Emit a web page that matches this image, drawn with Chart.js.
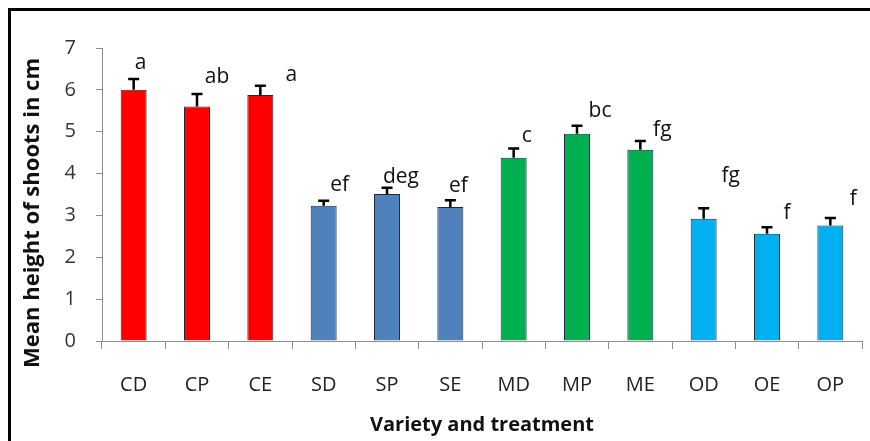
<!DOCTYPE html>
<html>
<head>
<meta charset="utf-8">
<script src="https://cdn.jsdelivr.net/npm/chart.js@4.4.1/dist/chart.umd.min.js"></script>
<style>
  html, body { margin: 0; padding: 0; background: #fff; overflow: hidden; }
  #wrap { position: relative; width: 870px; height: 441px; }
  #frame { position: absolute; left: 8px; top: 8px; width: 900px; height: 500px;
           border-top: 3px solid #000; border-left: 3px solid #000; }
  canvas { position: absolute; left: 0; top: 0; }
</style>
</head>
<body>
<div id="wrap">
  <div id="frame"></div>
  <canvas id="chart" width="870" height="441"></canvas>
</div>
<script>
// Mean shoot height per variety/treatment, with standard error and significance letters
const categories = ['CD', 'CP', 'CE', 'SD', 'SP', 'SE', 'MD', 'MP', 'ME', 'OD', 'OE', 'OP'];
const meanHeight = [6.0, 5.6, 5.88, 3.23, 3.51, 3.2, 4.38, 4.95, 4.57, 2.92, 2.56, 2.76];
const stdError = [0.26, 0.3, 0.22, 0.12, 0.15, 0.16, 0.22, 0.19, 0.21, 0.25, 0.16, 0.18];
const sigLetters = ['a', 'ab', 'a', 'ef', 'deg', 'ef', 'c', 'bc', 'fg', 'fg', 'f', 'f'];
const yTicks = [0, 1, 2, 3, 4, 5, 6, 7];

const barColors = ['#ff0000', '#ff0000', '#ff0000', '#4f81bd', '#4f81bd', '#4f81bd',
                   '#00b050', '#00b050', '#00b050', '#00b0f0', '#00b0f0', '#00b0f0'];

// letter nudges relative to the error-bar top (x right, y up), in px
const letterNudge = [[7, 16], [20, 17], [31, 11], [16, 16], [14, 11], [8, 14],
                     [13, 12], [23, 15], [22, 11], [27, 32], [20, 14], [23, 19]];

const FONT = '"Open Sans", sans-serif';

const errorBarsAndLetters = {
  id: 'errorBarsAndLetters',
  afterDatasetsDraw(chart) {
    const ctx = chart.ctx;
    const meta = chart.getDatasetMeta(0);
    const yScale = chart.scales.y;
    ctx.save();
    meta.data.forEach((bar, i) => {
      const yTop = yScale.getPixelForValue(meanHeight[i] + stdError[i]);
      const yBase = yScale.getPixelForValue(meanHeight[i]);
      ctx.strokeStyle = '#000';
      ctx.lineWidth = 2.5;
      ctx.beginPath();
      ctx.moveTo(bar.x, yBase);
      ctx.lineTo(bar.x, yTop);
      ctx.moveTo(bar.x - 5.5, yTop);
      ctx.lineTo(bar.x + 5.5, yTop);
      ctx.stroke();

      ctx.fillStyle = '#111';
      ctx.font = '21px ' + FONT;
      ctx.textAlign = 'center';
      ctx.textBaseline = 'middle';
      ctx.fillText(sigLetters[i], bar.x + letterNudge[i][0], yTop - letterNudge[i][1]);
    });

    // y axis title, rotated
    ctx.translate(33, 213);
    ctx.rotate(-Math.PI / 2);
    ctx.font = 'bold 22px ' + FONT;
    ctx.fillStyle = '#111';
    ctx.textAlign = 'center';
    ctx.textBaseline = 'middle';
    ctx.fillText('Mean height of shoots in cm', 0, 0);
    ctx.restore();
  }
};

new Chart(document.getElementById('chart'), {
  type: 'bar',
  data: {
    labels: categories,
    datasets: [{
      data: meanHeight,
      backgroundColor: barColors,
      borderColor: '#1a2a3a',
      borderWidth: 1,
      barPercentage: 0.82,
      categoryPercentage: 0.5
    }]
  },
  options: {
    responsive: false,
    animation: false,
    layout: { padding: { left: 0, right: 8, top: 48, bottom: 0 } },
    plugins: {
      legend: { display: false },
      tooltip: { enabled: false }
    },
    scales: {
      x: {
        afterFit: (scale) => { scale.height = 100; },
        border: { color: '#8c8c8c', width: 1 },
        grid: { drawOnChartArea: false, tickLength: 8, color: '#8c8c8c', offset: true },
        ticks: { color: '#222', font: { size: 20, family: FONT }, padding: 24 },
        title: {
          display: true,
          text: 'Variety and treatment',
          color: '#111',
          font: { size: 20, weight: 'bold', family: FONT },
          padding: { top: 4, bottom: 4 }
        }
      },
      y: {
        min: 0,
        max: 7,
        afterFit: (scale) => { scale.width = 102; },
        afterBuildTicks: (scale) => { scale.ticks = yTicks.map(v => ({ value: v })); },
        border: { color: '#8c8c8c', width: 1 },
        grid: { drawOnChartArea: false, tickLength: 6, color: '#8c8c8c' },
        ticks: { color: '#333', font: { size: 20, family: FONT }, padding: 20 }
      }
    }
  },
  plugins: [errorBarsAndLetters]
});
</script>
</body>
</html>
